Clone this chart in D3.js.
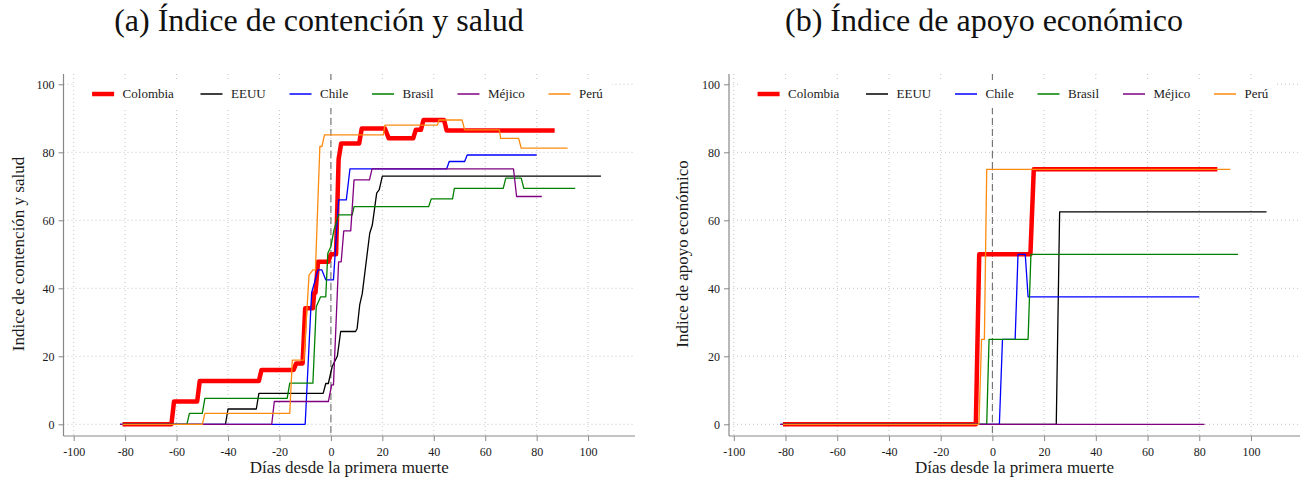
<!DOCTYPE html>
<html><head><meta charset="utf-8">
<script src="https://cdn.jsdelivr.net/npm/d3@7"></script>
<style>
html,body{margin:0;padding:0;background:#fff;}
svg{display:block;}
text{font-family:"Liberation Serif","Times New Roman",serif;fill:#1a1a1a;}
</style></head>
<body><svg id="c" width="1302" height="481"></svg>
<script>
// ---- data ----
const countries = ["Colombia","EEUU","Chile","Brasil","Méjico","Perú"];
const xTicks = [-100,-80,-60,-40,-20,0,20,40,60,80,100];
const yTicks = [0,20,40,60,80,100];
const titles = ["(a) Índice de contención y salud","(b) Índice de apoyo económico"];
const yTitles = ["Indice de contención y salud","Indice de apoyo económico"];
const xTitle = "Días desde la primera muerte";

// Panel (a): containment & health index, [day, value]
const contColombia = [[-81,0],[-62,0],[-61,6.7],[-52,6.7],[-51,12.7],[-28,12.7],[-27,16],[-14.5,16],[-13.5,17.9],[-11,17.9],[-10,34.1],[-7,34.1],[-6.5,38.7],[-6,38.7],[-5,47.8],[-1,47.8],[0,50],[2,50],[3,78],[4,82.6],[11,82.6],[12,87],[21,87],[22.5,84.1],[32,84.1],[33,86.6],[35,86.6],[36,89.5],[44,89.5],[45,86.4],[87,86.4]];
const contEEUU = [[-81,0],[-41,0],[-40,4.5],[-29,4.5],[-28,9.1],[-3,9.1],[-2,12],[-1,12],[0.5,17],[2.5,20],[3.8,27.3],[9.6,27.3],[10.2,28.2],[11.2,35.1],[12.2,38.5],[15.1,56.2],[16.1,58.6],[17.8,68],[18.8,69],[20,73],[105,73]];
const contChile = [[-82,0],[-10,0],[-7.5,38.7],[-5,45.4],[-3.5,45.4],[-2,42.5],[1,42.5],[3,66],[6,66],[7.4,75.1],[45,75.1],[46,77.3],[52,77.3],[53,79.2],[80,79.2]];
const contBrasil = [[-81,0],[-56,0],[-55,3.2],[-50,3.2],[-49,7.6],[-17,7.6],[-16,12.1],[-7,12.1],[-5.7,34.6],[-4,37.5],[-2,37.5],[-1.2,50.3],[0,52.3],[1.2,57.2],[3,61.6],[8.3,61.6],[9,64],[38,64],[39,66.3],[47.3,66.3],[48,69.4],[67,69.4],[68,72.4],[74,72.4],[75,69.4],[95,69.4]];
const contMejico = [[-82,0],[-23,0],[-22,6.7],[-1,6.7],[0.3,11.6],[1,11.6],[3,47.8],[4,47.8],[5,56.9],[7.7,56.9],[9,71.9],[15,71.9],[16,75.1],[71,75.1],[72.2,67],[82,67]];
const contPeru = [[-81,0],[-50,0],[-49,3.2],[-16,3.2],[-15,18.9],[-10.5,18.9],[-8.5,43.9],[-7,45.4],[-6,45.4],[-4.3,81.7],[-3.5,81.7],[-2.5,85.1],[20.4,85.1],[21,88],[41.4,88],[42,89.5],[51,89.5],[52,86.6],[65.5,86.6],[66,84.1],[73,84.1],[74,81.2],[92,81.2]];

// Panel (b): economic support index, [day, value]
const econColombia = [[-81,0],[-6.4,0],[-5.1,50],[14.7,50],[16,75],[87,75]];
const econEEUU = [[-81,0],[24.7,0],[26,62.5],[106,62.5]];
const econChile = [[-82,0],[2.7,0],[3.9,25],[8.8,25],[9.9,50],[12.7,50],[13.8,37.5],[80,37.5]];
const econBrasil = [[-81,0],[-2.2,0],[-1.3,25],[13.8,25],[14.9,50],[95,50]];
const econMejico = [[-82,0],[82,0]];
const econPeru = [[-81,0],[-5.2,0],[-4.2,25],[-3.1,25],[-2.2,75],[92,75]];

// ---- styles ----
const colors = {"Colombia":"#ff0000","EEUU":"#000000","Chile":"#0000ff","Brasil":"#008000","Méjico":"#800080","Perú":"#ff8a10"};
const widths = {"Colombia":4.5,"EEUU":1.3,"Chile":1.3,"Brasil":1.3,"Méjico":1.3,"Perú":1.3};

const svg = d3.select("#c");
svg.append("rect").attr("width",1302).attr("height",481).attr("fill","#fff");

function panel(cfg){
  const g = svg.append("g");
  const x = d3.scaleLinear().domain([-100,100]).range(cfg.xr);
  const y = d3.scaleLinear().domain([0,100]).range([424.3,84.3]);
  const L=cfg.L, R=cfg.R, T=74, B=436;

  // grid
  g.append("g").selectAll("line").data(yTicks).join("line")
    .attr("x1",L).attr("x2",R).attr("y1",d=>y(d)).attr("y2",d=>y(d))
    .attr("stroke","#c4c4c4").attr("stroke-width",1).attr("stroke-dasharray","1 3");
  g.append("g").selectAll("line").data(xTicks).join("line")
    .attr("x1",d=>x(d)).attr("x2",d=>x(d)).attr("y1",T).attr("y2",B)
    .attr("stroke","#c4c4c4").attr("stroke-width",1).attr("stroke-dasharray","1 3");

  // zero reference line
  g.append("line").attr("x1",x(0)).attr("x2",x(0)).attr("y1",T).attr("y2",B)
    .attr("stroke","#707070").attr("stroke-width",1.1).attr("stroke-dasharray","7 4");

  // series
  const line = d3.line().x(d=>x(d[0])).y(d=>y(d[1]));
  cfg.series.forEach((s,i)=>{
    const name = countries[i];
    g.append("path").attr("d",line(s)).attr("fill","none")
      .attr("stroke",colors[name]).attr("stroke-width",widths[name])
      .attr("stroke-linejoin","round").attr("stroke-linecap","butt");
  });

  // axes
  const fmt = d => String(d);
  const ax = g.append("g").attr("transform",`translate(0,${B})`)
    .call(d3.axisBottom(x).tickValues(xTicks).tickFormat(fmt).tickSize(5).tickSizeOuter(0).tickPadding(4));
  const ay = g.append("g").attr("transform",`translate(${L},0)`)
    .call(d3.axisLeft(y).tickValues(yTicks).tickFormat(fmt).tickSize(5).tickSizeOuter(0).tickPadding(4));
  [ax,ay].forEach(a=>{
    a.attr("font-family",null).attr("font-size",null);
    a.select(".domain").remove();
    a.selectAll(".tick line").attr("stroke","#888");
    a.selectAll(".tick text").style("font-size","12px").style("font-family","'Liberation Serif', serif").style("fill","#1a1a1a");
  });
  ax.selectAll(".tick text").attr("dy","0.95em");
  g.append("line").attr("x1",L).attr("x2",R).attr("y1",B).attr("y2",B).attr("stroke","#888").attr("stroke-width",1.2);
  g.append("line").attr("x1",L).attr("x2",L).attr("y1",T).attr("y2",B).attr("stroke","#888").attr("stroke-width",1.2);

  // legend
  g.append("rect").attr("x",L+11).attr("y",80).attr("width",R-L-34).attr("height",28).attr("fill","#fff");
  const offs = [28.6,137,226,308.5,394,485];
  countries.forEach((name,i)=>{
    const lx = L+offs[i];
    g.append("line").attr("x1",lx).attr("x2",lx+22).attr("y1",94).attr("y2",94)
      .attr("stroke",colors[name]).attr("stroke-width",name==="Colombia"?4.5:1.5);
    g.append("text").attr("x",lx+30.5).attr("y",94).attr("dy","0.33em")
      .style("font-size","13px").text(name);
  });

  // titles
  g.append("text").attr("x",cfg.titleX).attr("y",31).attr("text-anchor","middle")
    .style("font-size","32px").style("fill","#111").text(cfg.title);
  g.append("text").attr("x",(L+R)/2).attr("y",473).attr("text-anchor","middle")
    .style("font-size","17px").text(xTitle);
  g.append("text").attr("transform",`translate(${cfg.ytX},254) rotate(-90)`)
    .attr("text-anchor","middle").attr("dy","0.33em").style("font-size","17px").text(cfg.yTitle);
}

panel({L:63.5,R:635,xr:[73.7,588.1],title:titles[0],titleX:319,ytX:18,yTitle:yTitles[0],
  series:[contColombia,contEEUU,contChile,contBrasil,contMejico,contPeru]});
panel({L:729,R:1300,xr:[733.8,1251],title:titles[1],titleX:984,ytX:682,yTitle:yTitles[1],
  series:[econColombia,econEEUU,econChile,econBrasil,econMejico,econPeru]});
</script></body></html>
